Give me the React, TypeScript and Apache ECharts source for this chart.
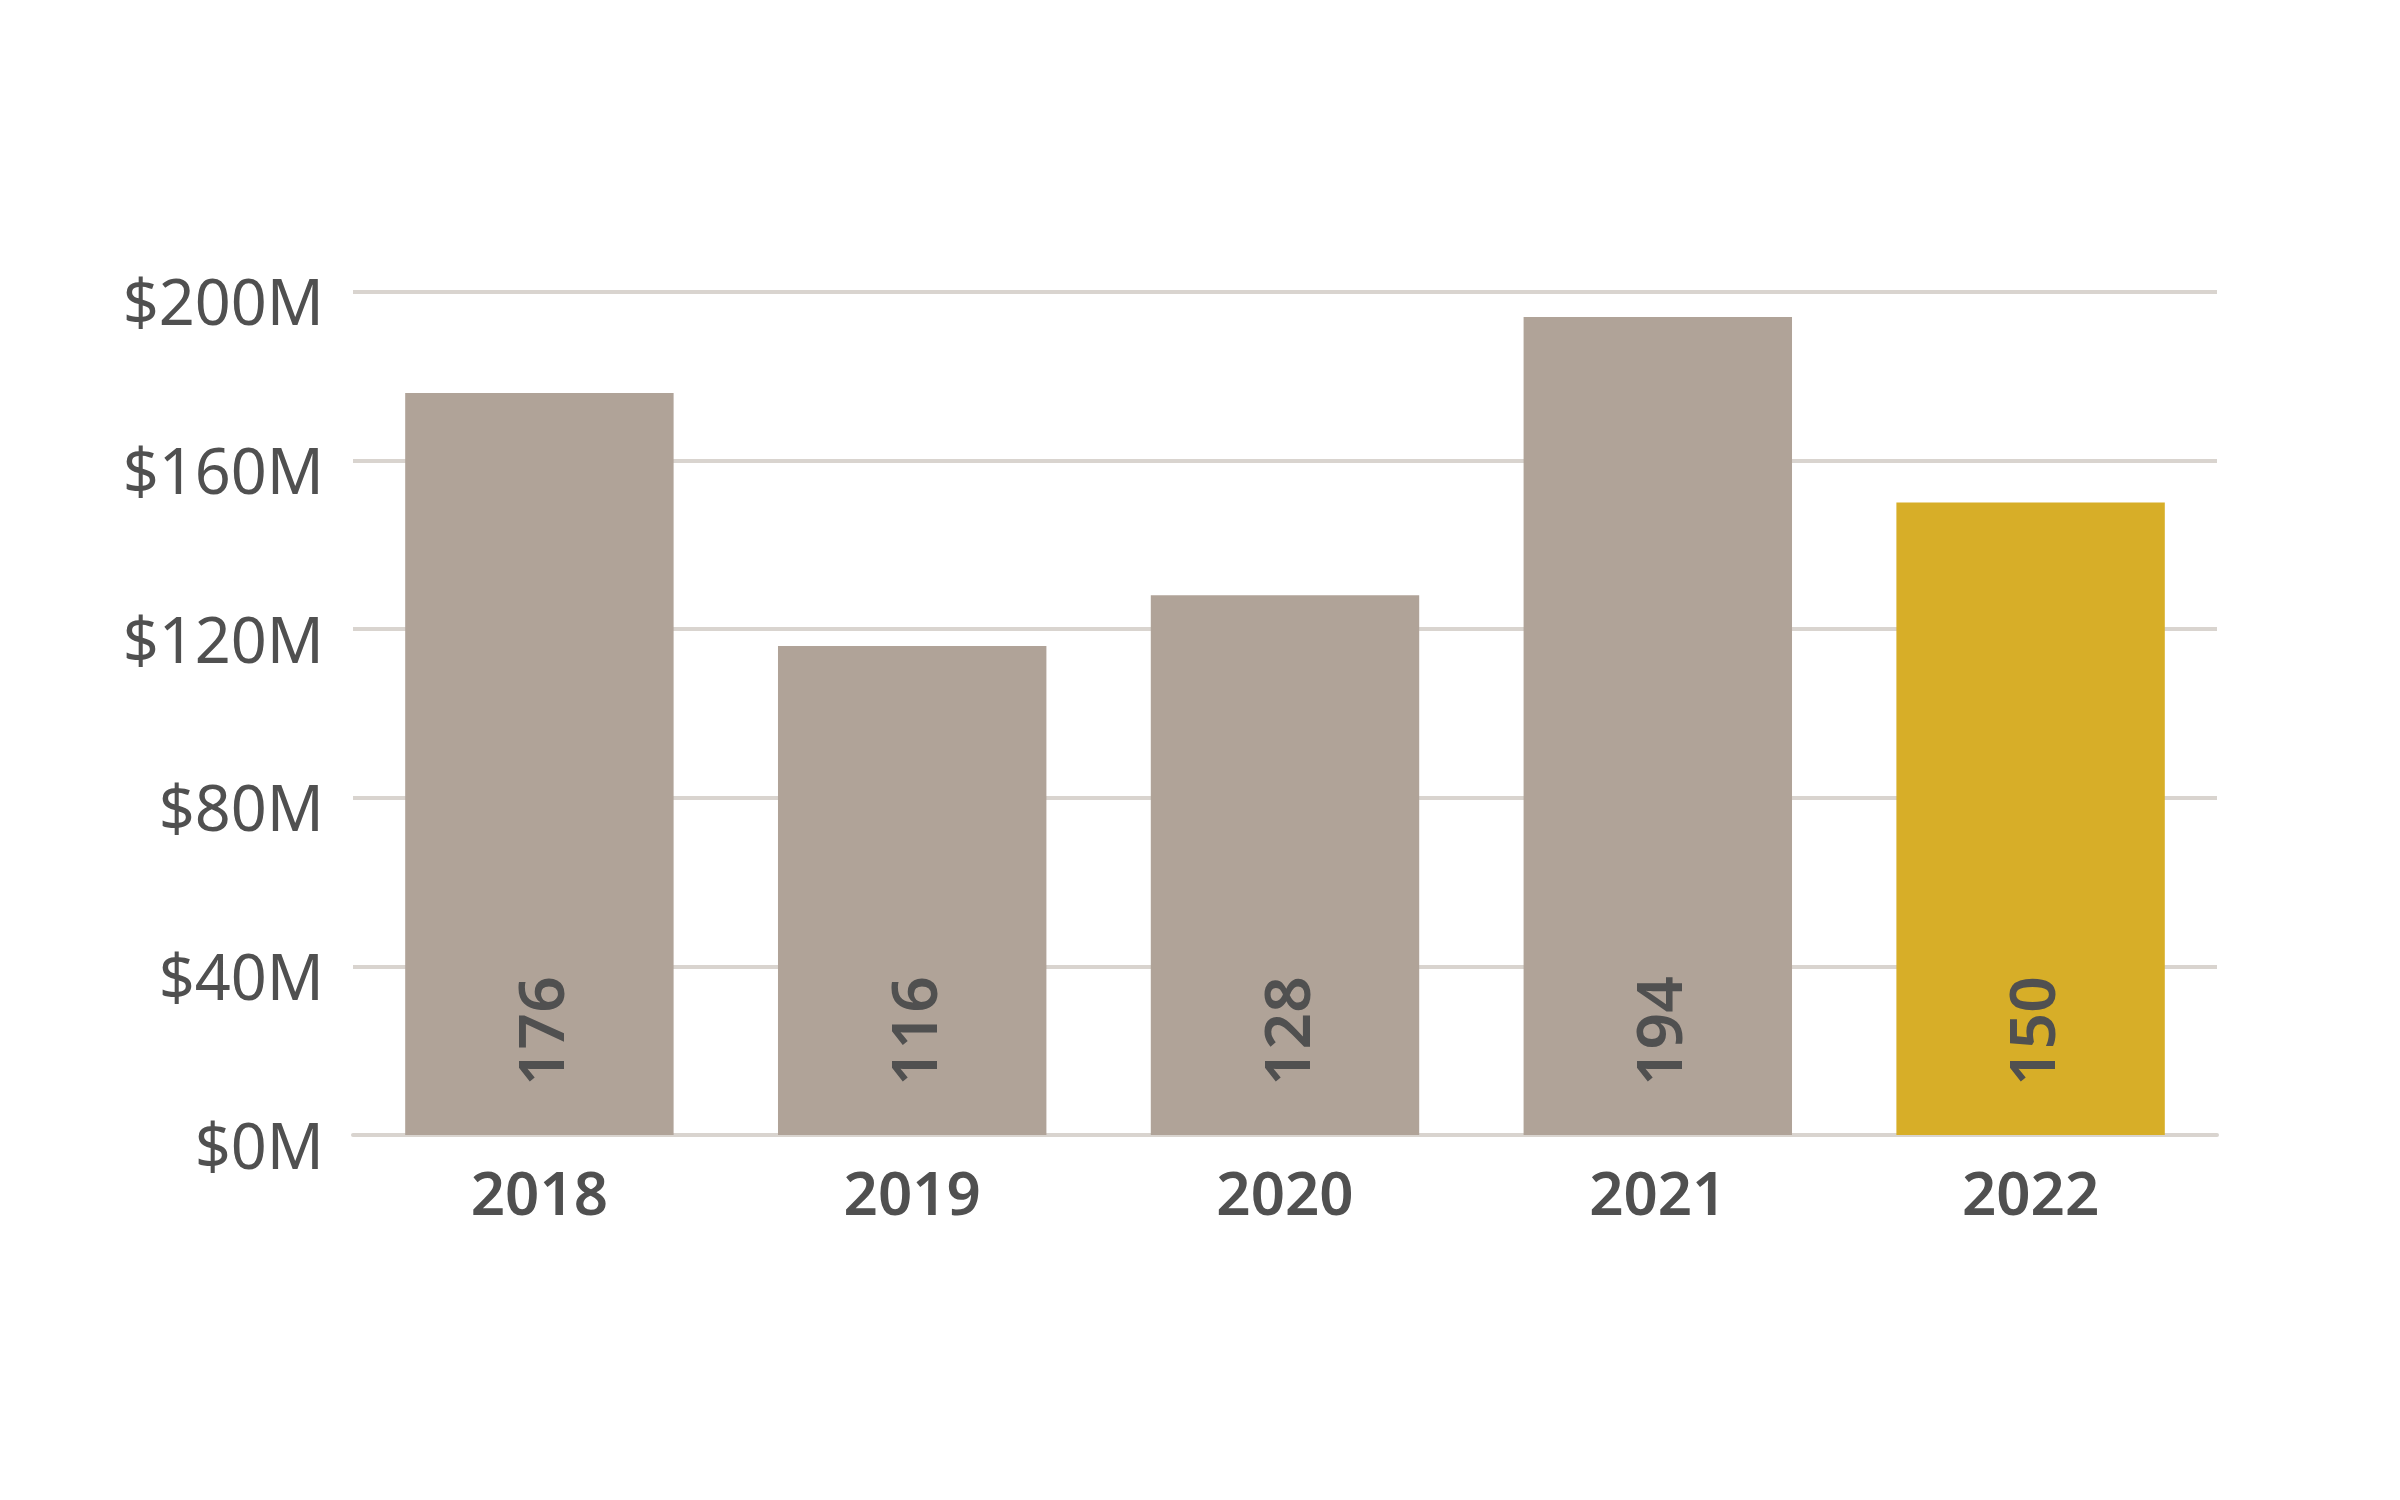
import React, { useEffect, useRef } from "react";
import * as echarts from "echarts";

const years = ["2018", "2019", "2020", "2021", "2022"];
const values = [176, 116, 128, 194, 150];
const barColors = ["#B0A398", "#B0A398", "#B0A398", "#B0A398", "#D7AE28"];
const yTicks = { min: 0, max: 200, interval: 40 };

const FONT = "'Noto Sans', sans-serif";
const TEXT = "#505050";

export default function App() {
  const ref = useRef<HTMLDivElement>(null);
  useEffect(() => {
    if (!ref.current) return;
    const chart = echarts.init(ref.current, undefined, { renderer: "svg" });
    chart.setOption({
      animation: false,
      backgroundColor: "#ffffff",
      grid: { left: 353, right: 183, top: 291.7, bottom: 365, containLabel: false },
      xAxis: {
        type: "category",
        data: years,
        axisLine: { show: true, lineStyle: { color: "#D9D4CF", width: 4 } },
        axisTick: { show: false },
        axisLabel: {
          color: TEXT,
          fontFamily: FONT,
          fontSize: 60,
          fontWeight: 600,
          margin: 27,
        },
      },
      yAxis: {
        type: "value",
        min: yTicks.min,
        max: yTicks.max,
        interval: yTicks.interval,
        axisLine: { show: false },
        axisTick: { show: false },
        splitLine: { show: true, lineStyle: { color: "#D9D4CF", width: 4 } },
        axisLabel: {
          color: TEXT,
          fontFamily: FONT,
          fontSize: 63,
          margin: 29,
          verticalAlign: "top",
          lineHeight: 18,
          formatter: (v: number) => "$" + v + "M",
        },
      },
      series: [
        {
          type: "bar",
          barCategoryGap: "28%",
          data: values.map((v, i) => ({ value: v, itemStyle: { color: barColors[i] } })),
          label: {
            show: true,
            position: "insideBottom",
            distance: 49,
            rotate: 90,
            align: "left",
            verticalAlign: "middle",
            color: TEXT,
            fontFamily: FONT,
            fontSize: 64,
            fontWeight: 600,
          },
        },
      ],
    });
    return () => chart.dispose();
  }, []);
  return (
    <div
      ref={ref}
      style={{ position: "fixed", left: 0, top: 0, width: 2400, height: 1500, background: "#fff" }}
    />
  );
}
